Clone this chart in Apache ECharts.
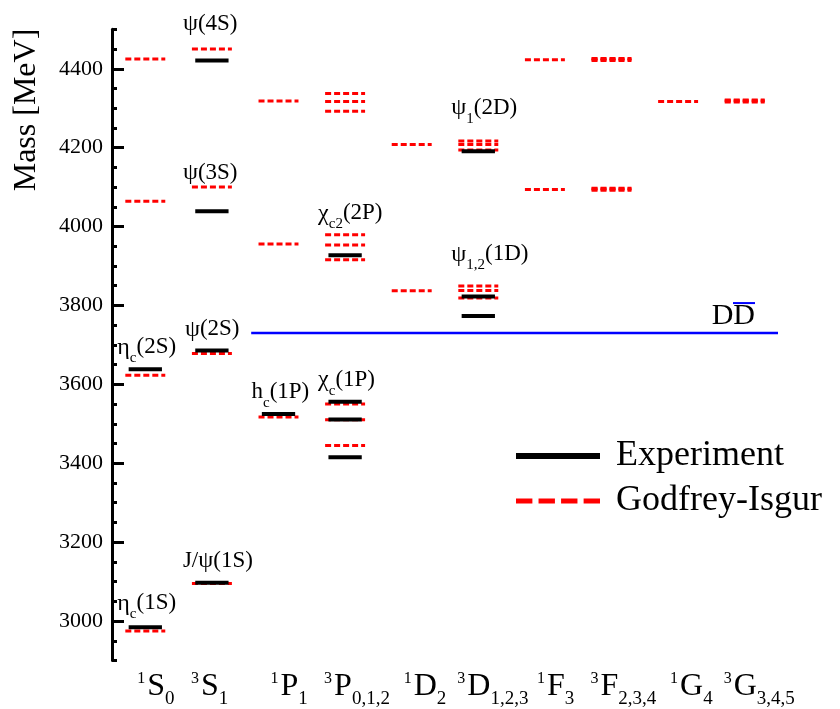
<!DOCTYPE html>
<html>
<head>
<meta charset="utf-8">
<script src="https://cdn.jsdelivr.net/npm/echarts@6/dist/echarts.min.js"></script>
<style>
  html, body { margin: 0; padding: 0; background: #fff; }
  #chart { width: 840px; height: 709px; }
</style>
</head>
<body>
<div id="chart"></div>
<script>
// Spectroscopic channels along the x axis: [superscript, orbital letter, subscript]
const channels = [
  ['1', 'S', '0'], ['3', 'S', '1'], ['1', 'P', '1'], ['3', 'P', '0,1,2'], ['1', 'D', '2'],
  ['3', 'D', '1,2,3'], ['1', 'F', '3'], ['3', 'F', '2,3,4'], ['1', 'G', '4'], ['3', 'G', '3,4,5']
];

// Measured charmonium masses: [channel index, MeV]
const experiment = [
  [0, 2984], [0, 3638],
  [1, 3097], [1, 3686], [1, 4039], [1, 4421],
  [2, 3525],
  [3, 3415], [3, 3511], [3, 3556], [3, 3927],
  [5, 3773], [5, 3823], [5, 4191]
];

// Godfrey-Isgur relativized quark model masses: [channel index, MeV]
const godfreyIsgur = [
  [0, 2975], [0, 3623], [0, 4064], [0, 4425],
  [1, 3095], [1, 3678], [1, 4100], [1, 4450],
  [2, 3517], [2, 3956], [2, 4318],
  [3, 3445], [3, 3510], [3, 3550], [3, 3916], [3, 3953], [3, 3979], [3, 4292], [3, 4317], [3, 4337],
  [4, 3837], [4, 4208],
  [5, 3819], [5, 3838], [5, 3849], [5, 4194], [5, 4208], [5, 4217],
  [6, 4094], [6, 4423],
  [7, 4092], [7, 4095], [7, 4097], [7, 4421], [7, 4424], [7, 4426],
  [8, 4317],
  [9, 4316], [9, 4319], [9, 4321]
];

// Open-charm threshold (MeV)
const ddThreshold = 3730;

// Mass axis
const massMin = 2900;
const massMax = 4500;
const massLabels = [3000, 3200, 3400, 3600, 3800, 4000, 4200, 4400];

// State names: [channel index, mass of the named level, rich text]
const stateNames = [
  [0, 2984, '{g|η}{s|c}{m|(1S)}'],
  [1, 3097, '{m|J/}{g|ψ}{m|(1S)}'],
  [0, 3638, '{g|η}{s|c}{m|(2S)}'],
  [1, 3686, '{g|ψ}{m|(2S)}'],
  [1, 4039, '{g|ψ}{m|(3S)}'],
  [1, 4421, '{g|ψ}{m|(4S)}'],
  [2, 3525, '{m|h}{s|c}{m|(1P)}'],
  [3, 3556, '{g|χ}{s|c}{m|(1P)}'],
  [3, 3927, '{g|χ}{s|c2}{m|(2P)}'],
  [5, 4191, '{g|ψ}{s|1}{m|(2D)}'],
  [5, 3823, '{g|ψ}{s|1,2}{m|(1D)}']
];
// Name placement: [left edge from channel centre, text centre above the level] in px
const nameOffsets = [
  [-28, -24], [-29, -22], [-28, -22], [-27, -21], [-29, -38], [-29, -37],
  [-27, -22], [-27, -22], [-27, -42], [-27, -43], [-27, -42]
];

const FONT = 'Liberation Serif';

const nameRich = {
  m: { fontFamily: FONT, fontSize: 23, color: '#000' },
  g: { fontFamily: FONT, fontSize: 24, color: '#000' },
  s: { fontFamily: FONT, fontSize: 15, color: '#000', padding: [22, 0, 0, 0] }
};

function levelRenderer(widthFrac, style) {
  return function (params, api) {
    const p = api.coord([api.value(0), api.value(1)]);
    const half = api.size([1, 0])[0] * widthFrac / 2;
    return {
      type: 'line',
      shape: { x1: p[0] - half, y1: p[1], x2: p[0] + half, y2: p[1] },
      style: style
    };
  };
}

const chart = echarts.init(document.getElementById('chart'), null, { renderer: 'canvas' });

chart.setOption({
  animation: false,
  backgroundColor: '#fff',
  grid: { left: 112, right: 62, top: 29.3, bottom: 48.5, containLabel: false },
  legend: {
    orient: 'vertical',
    left: 511,
    top: 433,
    itemWidth: 84,
    itemHeight: 6,
    itemGap: 9,
    selectedMode: false,
    data: [
      { name: 'Experiment', icon: 'path://M0,0H84V6H0Z' },
      { name: 'Godfrey-Isgur', icon: 'path://M0,0H16V5H0Z M22,0H38V5H22Z M44,0H60V5H44Z M66,0H82V5H66Z' }
    ],
    textStyle: { fontFamily: FONT, fontSize: 36, color: '#000', padding: [0, 0, 0, 11] }
  },
  graphic: [{
    type: 'text',
    x: 27,
    y: 110,
    rotation: Math.PI / 2,
    style: {
      text: 'Mass [MeV]',
      font: '32px "Liberation Serif"',
      fill: '#000',
      align: 'center',
      verticalAlign: 'middle'
    }
  }],
  xAxis: {
    type: 'category',
    data: channels.map(c => c.join('')),
    boundaryGap: true,
    axisLine: { show: false },
    axisTick: { show: false },
    splitLine: { show: false },
    axisLabel: {
      interval: 0,
      align: 'left',
      margin: 5,
      padding: [0, 0, 0, -21],
      formatter: function (v, i) {
        const c = channels[i];
        const lead = c[0] === '1' ? '{gap| }' : '';
        return lead + '{sup|' + c[0] + '}{m|' + c[1] + '}{sub|' + c[2] + '}';
      },
      rich: {
        gap: { width: 13, fontFamily: FONT, fontSize: 16 },
        sup: { fontFamily: FONT, fontSize: 16, color: '#000', padding: [0, 2, 17, 0] },
        m: { fontFamily: FONT, fontSize: 32, color: '#000' },
        sub: { fontFamily: FONT, fontSize: 19, color: '#000', padding: [24, 0, 0, 0] }
      }
    }
  },
  yAxis: [{
    type: 'value',
    min: massMin,
    max: massMax,
    interval: 50,
    position: 'left',
    axisLine: { show: true, lineStyle: { color: '#000', width: 3 } },
    axisTick: { show: true, inside: true, length: 5, lineStyle: { color: '#000', width: 3 } },
    splitLine: { show: false },
    axisLabel: {
      customValues: massLabels,
      formatter: v => String(v),
      margin: 9,
      fontFamily: FONT,
      fontSize: 22,
      color: '#000'
    }
  }, {
    type: 'value',
    min: massMin,
    max: massMax,
    interval: 50,
    position: 'left',
    axisLine: { show: false },
    axisTick: { show: true, inside: true, length: 12, customValues: massLabels, lineStyle: { color: '#000', width: 3 } },
    splitLine: { show: false },
    axisLabel: { show: false }
  }],
  series: [{
    name: 'Godfrey-Isgur',
    type: 'custom',
    z: 2,
    itemStyle: { color: '#ff0000' },
    encode: { x: 0, y: 1 },
    data: godfreyIsgur,
    renderItem: levelRenderer(0.6, { stroke: '#ff0000', lineWidth: 3, lineDash: [6, 3] })
  }, {
    name: 'Experiment',
    type: 'custom',
    z: 3,
    itemStyle: { color: '#000' },
    encode: { x: 0, y: 1 },
    data: experiment,
    renderItem: levelRenderer(0.5, { stroke: '#000', lineWidth: 4 })
  }, {
    name: 'names',
    type: 'custom',
    z: 4,
    silent: true,
    encode: { x: 0, y: 1 },
    data: stateNames.map(s => [s[0], s[1]]),
    renderItem: function (params, api) {
      const p = api.coord([api.value(0), api.value(1)]);
      const off = nameOffsets[params.dataIndex];
      return {
        type: 'text',
        x: p[0] + off[0],
        y: p[1] + off[1],
        style: {
          text: stateNames[params.dataIndex][2],
          rich: nameRich,
          fontFamily: FONT,
          fontSize: 23,
          fill: '#000',
          align: 'left',
          verticalAlign: 'middle'
        }
      };
    }
  }, {
    name: 'threshold',
    type: 'custom',
    z: 2,
    silent: true,
    encode: { x: 0, y: 1 },
    data: [[2, ddThreshold]],
    renderItem: function (params, api) {
      const p = api.coord([api.value(0), api.value(1)]);
      const band = api.size([1, 0])[0];
      const xEnd = params.coordSys.x + params.coordSys.width;
      return {
        type: 'group',
        children: [{
          type: 'line',
          shape: { x1: p[0] - band * 0.41, y1: p[1], x2: xEnd, y2: p[1] },
          style: { stroke: '#0000ff', lineWidth: 2.5 }
        }, {
          type: 'text',
          x: xEnd - 23,
          y: p[1] - 18,
          style: {
            text: '{bar| }\n{d|DD}',
            align: 'right',
            verticalAlign: 'middle',
            rich: {
              bar: { width: 22, height: 2, lineHeight: 2, backgroundColor: '#0000ff', fontSize: 2 },
              d: { fontFamily: FONT, fontSize: 30, color: '#0000ff', lineHeight: 24 }
            }
          }
        }]
      };
    }
  }]
});
</script>
</body>
</html>
